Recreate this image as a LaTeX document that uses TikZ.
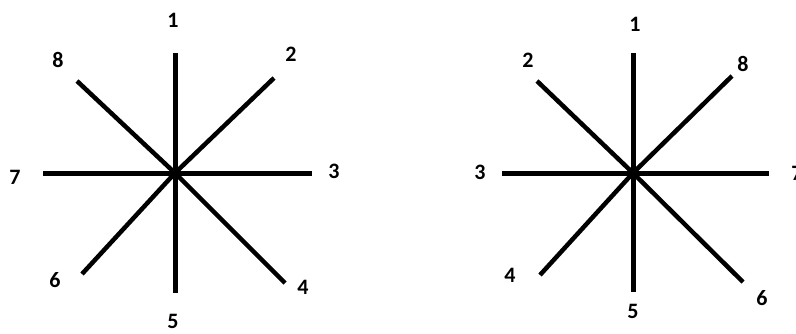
\documentclass[tikz,border=0pt]{standalone}
\usepackage{fontspec}
\setmainfont{Carlito}
\begin{document}
\begin{tikzpicture}[x=1pt,y=-1pt,
  ray/.style={line width=5pt},
  dray/.style={line width=4.5pt},
  lbl/.style={font=\bfseries\fontsize{22}{22}\selectfont, inner sep=0pt}]
\useasboundingbox (0,0) rectangle (796,333);
% left star
\coordinate (Lc) at (175,173);
\coordinate (Lt) at (175,53);
\coordinate (Lb) at (175,293);
\coordinate (Ll) at (43,173);
\coordinate (Lr) at (312,173);
\coordinate (Lul) at (77,81);
\coordinate (Lur) at (274,78);
\coordinate (Lll) at (82,274);
\coordinate (Llr) at (285,283);
\draw[ray] (Lc) -- (Lt);
\draw[ray] (Lc) -- (Lb);
\draw[ray] (Lc) -- (Ll);
\draw[ray] (Lc) -- (Lr);
\draw[dray] (Lc) -- (Lul);
\draw[dray] (Lc) -- (Lur);
\draw[dray] (Lc) -- (Lll);
\draw[dray] (Lc) -- (Llr);
\node[lbl] (L1) at (173,20) {1};
\node[lbl] (L2) at (291,54) {2};
\node[lbl] (L3) at (334,171) {3};
\node[lbl] (L4) at (303,287) {4};
\node[lbl] (L5) at (173,321) {5};
\node[lbl] (L6) at (55,280) {6};
\node[lbl] (L7) at (15,177) {7};
\node[lbl] (L8) at (58,60) {8};
% right star
\coordinate (Rc) at (633,173);
\coordinate (Rt) at (633,53);
\coordinate (Rb) at (633,292);
\coordinate (Rl) at (502,173);
\coordinate (Rr) at (769,173);
\coordinate (Rul) at (537,81);
\coordinate (Rur) at (732,76);
\coordinate (Rll) at (540,275);
\coordinate (Rlr) at (743,282);
\draw[ray] (Rc) -- (Rt);
\draw[ray] (Rc) -- (Rb);
\draw[ray] (Rc) -- (Rl);
\draw[ray] (Rc) -- (Rr);
\draw[dray] (Rc) -- (Rul);
\draw[dray] (Rc) -- (Rur);
\draw[dray] (Rc) -- (Rll);
\draw[dray] (Rc) -- (Rlr);
\node[lbl] (R1) at (635,24) {1};
\node[lbl] (R2) at (528,60) {2};
\node[lbl] (R3) at (480,172) {3};
\node[lbl] (R4) at (510,275) {4};
\node[lbl] (R5) at (633,311) {5};
\node[lbl] (R6) at (762,298) {6};
\node[lbl] (R7) at (797,173) {7};
\node[lbl] (R8) at (743,64) {8};
\end{tikzpicture}
\end{document}
